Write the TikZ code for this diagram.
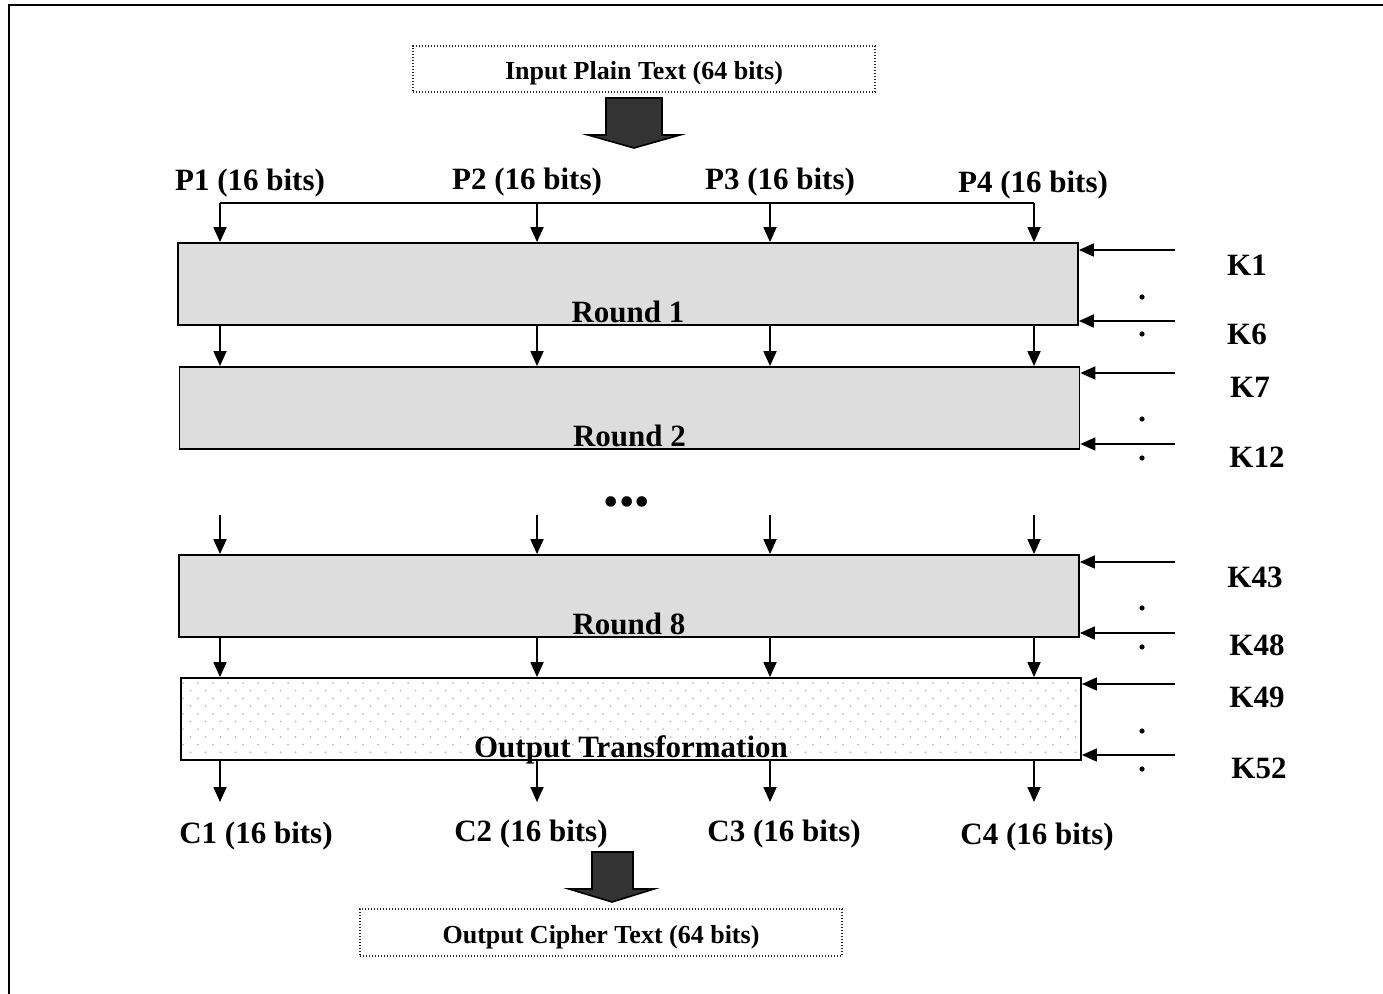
\documentclass[tikz,border=0pt]{standalone}
\usepackage{fontspec}
\setmainfont{Liberation Serif}
\usepackage{tikz}
\usetikzlibrary{positioning, arrows.meta, backgrounds}
\definecolor{roundgray}{HTML}{DDDDDD}
\definecolor{blockgray}{HTML}{333333}

\begin{document}
\begin{tikzpicture}[x=0.5pt, y=-0.5pt]
    \tikzstyle{lbl} = [font=\fontsize{15.5}{18}\selectfont\bfseries]
    \tikzstyle{small} = [font=\fontsize{13}{15}\selectfont\bfseries]
    \tikzstyle{iobox} = [rectangle, draw=black!85, line width=0.6pt, dash pattern=on 0.6pt off 0.9pt, minimum width=231pt, minimum height=23pt, text height=11pt, text depth=0pt, small]
    \tikzstyle{round} = [rectangle, draw=black, line width=0.9pt, fill=roundgray, minimum width=450pt, minimum height=41pt, inner sep=0pt]
    \tikzstyle{otbox} = [rectangle, draw=black, line width=0.9pt, minimum width=450pt, minimum height=41pt, inner sep=0pt]
    \tikzstyle{inside} = [lbl, anchor=base, yshift=1.5pt]
    \tikzstyle{arrow} = [line width=0.9pt, -{Triangle[length=7.5pt, width=6.5pt]}]
    \tikzstyle{blockarrow} = [draw=black, line width=0.8pt, fill=blockgray]

    \useasboundingbox (0,0) rectangle (1383,994);
    \draw[line width=1.1pt] (9,994) -- (9,5) -- (1383,5);

    \node [iobox] (plain) at (644,69) {Input Plain Text (64 bits)};
    \draw [blockarrow] (606,98) -- (662,98) -- (662,135) -- (680,135) -- (634,148) -- (588,135) -- (606,135) -- cycle;

    \node [lbl] (p1) at (250,183) {P1 (16 bits)};
    \node [lbl] (p2) at (527,182) {P2 (16 bits)};
    \node [lbl] (p3) at (780,182) {P3 (16 bits)};
    \node [lbl] (p4) at (1033,185) {P4 (16 bits)};

    \node [round] (r1) at (628,284) {};
    \node [inside] at (r1.south) {Round 1};
    \node [round] (r2) at (629.5,408) {};
    \node [inside] at (r2.south) {Round 2};
    \node [lbl, font=\fontsize{22}{24}\selectfont] (more) at (627,507) {\textbullet\textbullet\textbullet};
    \node [round] (r8) at (629,596) {};
    \node [inside] at (r8.south) {Round 8};
    \node [otbox] (ot) at (631,719) {};
    \node [inside] at (ot.south) {Output Transformation};

    % dotted fill of the output transformation
    \begin{scope}[on background layer]
        \clip (ot.south west) rectangle (ot.north east);
        \foreach \row in {0,...,10}
            \foreach \col in {0,...,61}
                \fill [gray!55] ({183+15*\col+7.5*mod(\row,2)}, {683+7.7*\row}) circle (0.5pt);
    \end{scope}

    \coordinate (busl) at (220,203);
    \coordinate (busr) at (1034,203);
    \draw [line width=0.9pt] (busl) -- (busr);
    \foreach \x in {220,537,770,1034} {
        \coordinate (top) at (\x,203);
        \coordinate (gap) at (\x,515);
        \coordinate (out) at (\x,802);
        \draw [arrow] (top) -- (r1.north -| top);
        \draw [arrow] (r1.south -| top) -- (r2.north -| top);
        \draw [arrow] (gap) -- (r8.north -| gap);
        \draw [arrow] (r8.south -| top) -- (ot.north -| top);
        \draw [arrow] (ot.south -| out) -- (out);
    }

    \node [lbl] (c1) at (256,836) {C1 (16 bits)};
    \node [lbl] (c2) at (531,834) {C2 (16 bits)};
    \node [lbl] (c3) at (784,834) {C3 (16 bits)};
    \node [lbl] (c4) at (1037,837) {C4 (16 bits)};

    \draw [blockarrow] (592,852) -- (633,852) -- (633,889) -- (654,889) -- (612,902) -- (569,889) -- (592,889) -- cycle;
    \node [iobox, minimum width=241pt, minimum height=23.5pt] (cipher) at (601,932.5) {Output Cipher Text (64 bits)};

    % sub-keys
    \foreach \yk/\blk in {250/r1, 321/r1, 373/r2, 444/r2, 562/r8, 633/r8, 684/ot, 755/ot} {
        \coordinate (kin) at (1175,\yk);
        \draw [arrow] (kin) -- (kin -| \blk.east);
    }
    \foreach \yd in {297,334,419,458,608,647,731,769}
        \fill (1142,\yd) circle (1.3pt);
    \node [lbl] (k1) at (1247,265) {K1};
    \node [lbl] (k6) at (1247,334) {K6};
    \node [lbl] (k7) at (1250,387) {K7};
    \node [lbl] (k12) at (1257,457) {K12};
    \node [lbl] (k43) at (1255,577) {K43};
    \node [lbl] (k48) at (1257,645) {K48};
    \node [lbl] (k49) at (1257,697) {K49};
    \node [lbl] (k52) at (1259,768) {K52};
\end{tikzpicture}
\end{document}
